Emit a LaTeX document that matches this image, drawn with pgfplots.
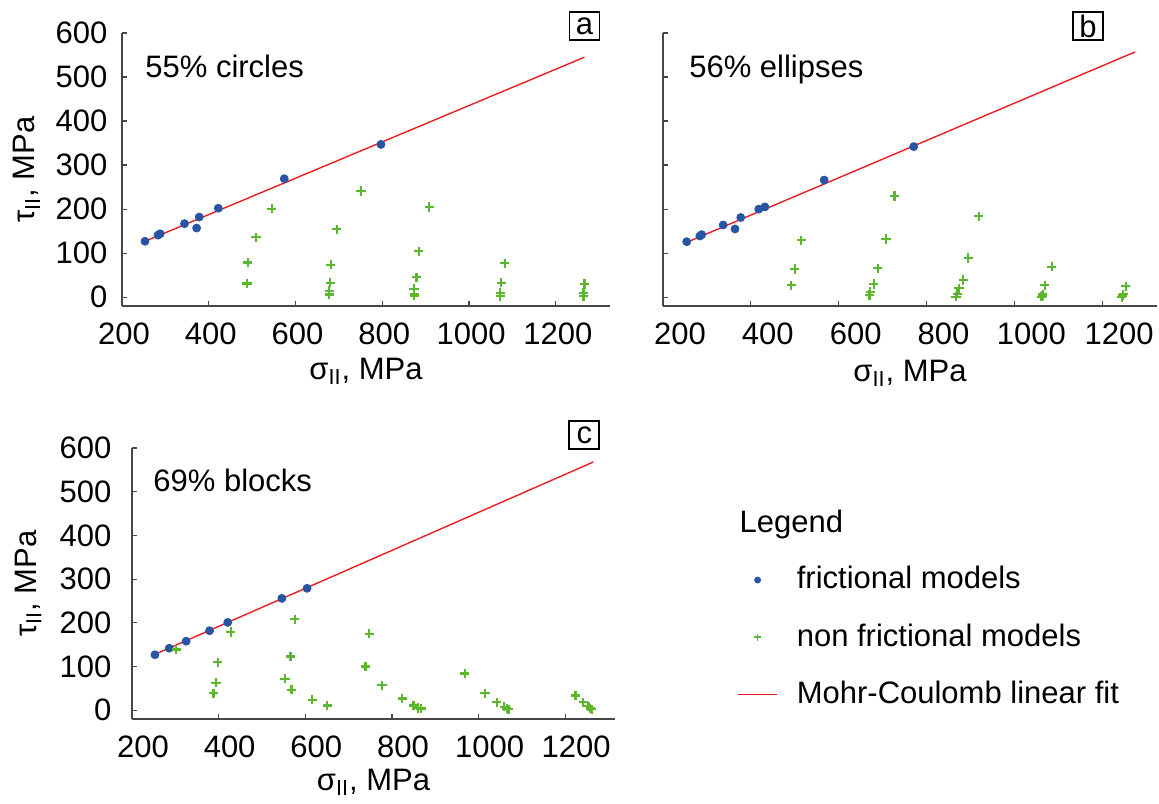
\documentclass[border=0pt]{standalone}
\usepackage{pgfplots}
\pgfplotsset{compat=1.18}
\usepackage{fontspec}
\setmainfont{Liberation Sans}
\definecolor{fricblue}{RGB}{40,84,164}
\definecolor{nfgreen}{RGB}{92,182,46}
\definecolor{fitred}{RGB}{235,30,35}
\definecolor{spine}{RGB}{70,70,70}

\pgfplotstableread{
x y
253 127
283 141
288 144
344 167
372 157
378 182
422 202
574 269
797 347
}\fricA
\pgfplotstableread{
x y
488 31
490 79
509 136
545 201
678 6
678 14
680 33
681 74
695 154
751 241
874 4
874 8
873 19
879 45
884 104
908 205
1072 2
1072 10
1074 33
1082 77
1264 2
1264 10
1266 30
}\nonA
\pgfplotstableread{
x y
254 126
284 139
288 142
337 164
364 155
377 181
418 200
432 205
567 266
771 342
}\fricB
\pgfplotstableread{
x y
492 27
500 64
515 129
670 5
672 12
680 30
689 66
708 132
727 230
867 1
870 8
874 20
884 39
895 89
919 184
1062 1
1064 4
1065 7
1069 27
1085 69
1245 0
1247 4
1248 7
1254 25
}\nonB
\pgfplotstableread{
x y
253 127
286 142
325 158
379 182
421 201
546 256
604 279
}\fricC
\pgfplotstableread{
x y
302 139
388 39
394 63
398 110
428 179
553 72
568 47
566 123
576 208
616 24
651 11
739 100
748 175
777 57
824 27
850 11
860 5
867 4
968 84
1015 39
1042 18
1059 8
1065 4
1069 2
1224 34
1242 18
1254 9
1258 4
1261 2
}\nonC

\pgfplotsset{
  panel/.style={
    scale only axis,
    anchor=south west,
    ymin=-20, ymax=600,
    xmin=200,
    xtick={200,400,...,1200},
    ytick={0,100,...,600},
    axis x line*=bottom,
    axis y line*=left,
    axis line style={spine, line width=0.8pt, -},
    tick style={spine, line width=0.6pt},
    tick align=inside,
    major tick length=2.5pt,
    /pgf/number format/assume math mode=true,
    /pgf/number format/1000 sep={},
    xlabel={σ\textsubscript{II}, MPa},
    ylabel={τ\textsubscript{II}, MPa},
    clip=false,
  },
  fric/.style={only marks, mark=*, mark size=2pt, color=fricblue, mark options={fill=fricblue, draw=fricblue}},
  nonfric/.style={only marks, mark=+, mark size=2.3pt, color=nfgreen, draw=nfgreen, mark options={draw=nfgreen, line width=1.1pt}},
  fit/.style={fitred, line width=0.7pt, no marks},
}

\begin{document}
\fontsize{15.5}{18.6}\selectfont
\begin{tikzpicture}[font=\fontsize{15.5}{18.6}\selectfont]
\useasboundingbox (0,0) rectangle (579.5pt,401.5pt);

% panel a
\begin{axis}[panel, at={(61pt,248.5pt)}, width=244pt, height=136.5pt, xmax=1325,
  xticklabel style={yshift=-3pt, xshift=1pt},
  yticklabel style={xshift=-2pt},
  xlabel style={at={(axis description cs:0.5,-0.238)}, anchor=center},
  ylabel style={at={(axis description cs:-0.195,0.5)}, anchor=center}]
\addplot[fit] coordinates {(253,127) (1266,545)};
\addplot[fric] table {\fricA};
\addplot[nonfric] table {\nonA};
\node[anchor=base west, inner sep=0pt] at (axis cs:253,498) {55\% circles};
\node[draw, line width=0.8pt, minimum width=15pt, minimum height=14pt, inner sep=0pt] at (axis cs:1266,616) {a};
\end{axis}

% panel b
\begin{axis}[panel, at={(331.5pt,248.5pt)}, width=247pt, height=136.5pt, xmax=1325,
  yticklabels={}, ylabel={},
  xticklabel style={yshift=-3pt, xshift=8.5pt},
  xlabel style={at={(axis description cs:0.5,-0.245)}, anchor=center}]
\addplot[fit] coordinates {(255,125) (1275,557)};
\addplot[fric] table {\fricB};
\addplot[nonfric] table {\nonB};
\node[anchor=base west, inner sep=0pt] at (axis cs:259,500) {56\% ellipses};
\node[draw, line width=0.8pt, minimum width=15pt, minimum height=14pt, inner sep=0pt] at (axis cs:1168,616) {b};
\end{axis}

% panel c
\begin{axis}[panel, at={(66pt,42pt)}, width=241.5pt, height=135.5pt, xmax=1315,
  xticklabel style={yshift=-3pt, xshift=5.5pt},
  yticklabel style={xshift=-5pt},
  xlabel style={at={(axis description cs:0.5,-0.232)}, anchor=center},
  ylabel style={at={(axis description cs:-0.215,0.5)}, anchor=center},
  legend cell align=left,
  legend style={at={(axis description cs:1.2526,0.579)}, anchor=north west,
    draw=none, fill=none, inner sep=0pt, row sep=11pt,
    /tikz/every odd column/.append style={column sep=7.5pt}}]
\addplot[fit, forget plot] coordinates {(253,128) (1265,568)};
\addplot[fric, forget plot] table {\fricC};
\addplot[nonfric, forget plot] table {\nonC};
\node[anchor=base west, inner sep=0pt] at (axis cs:248.5,500) {69\% blocks};
\node[draw, line width=0.8pt, minimum width=15pt, minimum height=14pt, inner sep=0pt] at (axis cs:1244,630) {c};
\node[anchor=base west, inner sep=0pt] at (axis cs:1602,406) {Legend};
\addlegendimage{legend image code/.code={\path[draw=none] (0pt,0pt) -- (19.5pt,0pt); \fill[fricblue] (9.75pt,0pt) circle[radius=1.5pt];}}
\addlegendentry{frictional models}
\addlegendimage{legend image code/.code={\path[draw=none] (0pt,0pt) -- (19.5pt,0pt); \draw[nfgreen, line width=0.7pt] (8.05pt,0pt) -- (11.45pt,0pt) (9.75pt,-1.7pt) -- (9.75pt,1.7pt);}}
\addlegendentry{non frictional models}
\addlegendimage{legend image code/.code={\draw[fitred, line width=0.7pt] (0pt,0pt) -- (19.5pt,0pt);}}
\addlegendentry{Mohr-Coulomb linear fit}
\end{axis}
\end{tikzpicture}
\end{document}
